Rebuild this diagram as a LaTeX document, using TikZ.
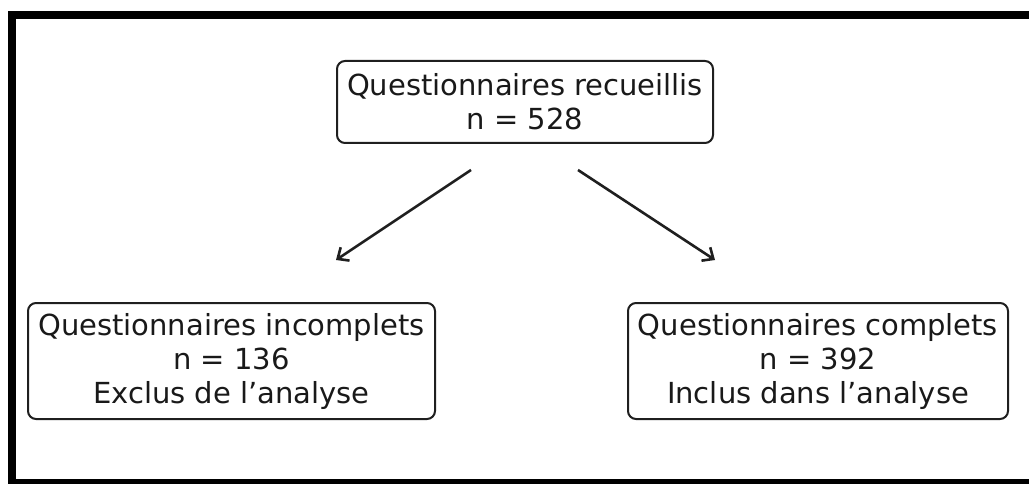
\documentclass[tikz,border=0pt]{standalone}
\usepackage{fontspec}
\setmainfont{DejaVu Sans}
\usetikzlibrary{arrows.meta}
\tikzset{
  box/.style={draw=black!88, line width=2pt, rounded corners=8pt, align=center,
    inner sep=0pt, text=black!90, font=\fontsize{29}{34}\selectfont},
  link/.style={draw=black!88, line width=2.6pt, -{Straight Barb[length=9pt,width=16pt,line width=2.6pt]}}
}
\begin{document}
\begin{tikzpicture}[x=1pt,y=-1pt]
\useasboundingbox (0,0) rectangle (1029,484);
\clip (0,0) rectangle (1029,484);
\draw[line width=8pt] (12,15) rectangle (1040,483);
\node[box, minimum width=376pt, minimum height=82pt] (top) at (525,102)
  {Questionnaires recueillis\\n = 528};
\node[box, minimum width=407pt, minimum height=116pt] (left) at (231.5,361)
  {Questionnaires incomplets\\n = 136\\Exclus de l’analyse};
\node[box, minimum width=380pt, minimum height=116pt] (right) at (818,361)
  {Questionnaires complets\\n = 392\\Inclus dans l’analyse};
\coordinate (ls) at (471,170);
\coordinate (le) at (336,260);
\coordinate (rs) at (578,170);
\coordinate (re) at (715,260);
\draw[link] (ls) -- (le);
\draw[link] (rs) -- (re);
\end{tikzpicture}
\end{document}
